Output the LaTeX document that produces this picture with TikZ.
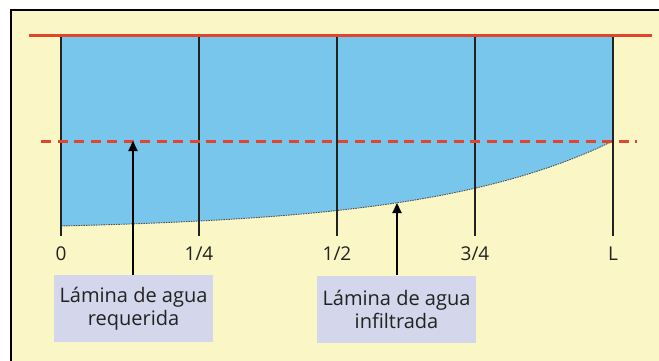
\documentclass[tikz,border=0pt]{standalone}
\usepackage{fontspec}
\setmainfont{Open Sans}
\usetikzlibrary{arrows.meta}
\definecolor{bgyellow}{HTML}{FBF6C6}
\definecolor{water}{HTML}{78C6EC}
\definecolor{redline}{HTML}{E0462C}
\definecolor{boxfill}{HTML}{D4D6EB}
\definecolor{ink}{HTML}{222222}
\tikzset{
  tick/.style={draw=ink, line width=1.2pt},
  ticklabel/.style={font=\fontsize{19}{22}\selectfont, text=ink, inner sep=0pt},
  labelbox/.style={fill=boxfill, text=ink, font=\fontsize{20}{23}\selectfont, align=center, minimum width=159pt, minimum height=67pt, inner sep=0pt},
  pointer/.style={draw=black, line width=2.2pt, -{Triangle[length=10pt,width=9pt]}},
}
\begin{document}
\begin{tikzpicture}[x=1pt,y=-1pt]
\useasboundingbox (0,0) rectangle (659,360);
\fill[white] (0,0) rectangle (659,360);
% frame
\fill[bgyellow] (11,10) rectangle (661,362);
\draw[black, line width=2.2pt] (11,362) -- (11,10) -- (661,10);
% water region
\fill[water] (61,36) -- (61,226)
  -- plot[domain=0:1, samples=60, smooth] ({61+552*\x},{226-85*(exp(3*\x)-1)/(exp(3)-1)})
  -- (613,36) -- cycle;
\draw[ink!80, line width=0.9pt, dash pattern=on 1.5pt off 1pt]
  plot[domain=0:1, samples=60, smooth] ({61+552*\x},{226-85*(exp(3*\x)-1)/(exp(3)-1)});
% vertical ticks
\foreach \xx/\lab/\nm in {61/0/t0, 199/1\slash 4/t1, 337/1\slash 2/t2, 475/3\slash 4/t3, 613/L/t4}{
  \draw[tick] (\xx,36) -- (\xx,236);
  \node[ticklabel] (\nm) at (\xx,254) {\lab};
}
% red lines
\draw[redline, line width=3pt] (29,35) -- (652,35);
\draw[redline, line width=3pt, dash pattern=on 10pt off 6.5pt] (41,141) -- (637,141);
% boxes
\node[labelbox] (req) at (133.5,308.5) {Lámina de agua\\requerida};
\node[labelbox] (inf) at (396.5,309) {Lámina de agua\\infiltrada};
\coordinate (tipA) at (133,141);
\coordinate (tipB) at (397,203);
\draw[pointer] (req.north -| tipA) -- (tipA);
\draw[pointer] (inf.north -| tipB) -- (tipB);
\end{tikzpicture}
\end{document}
